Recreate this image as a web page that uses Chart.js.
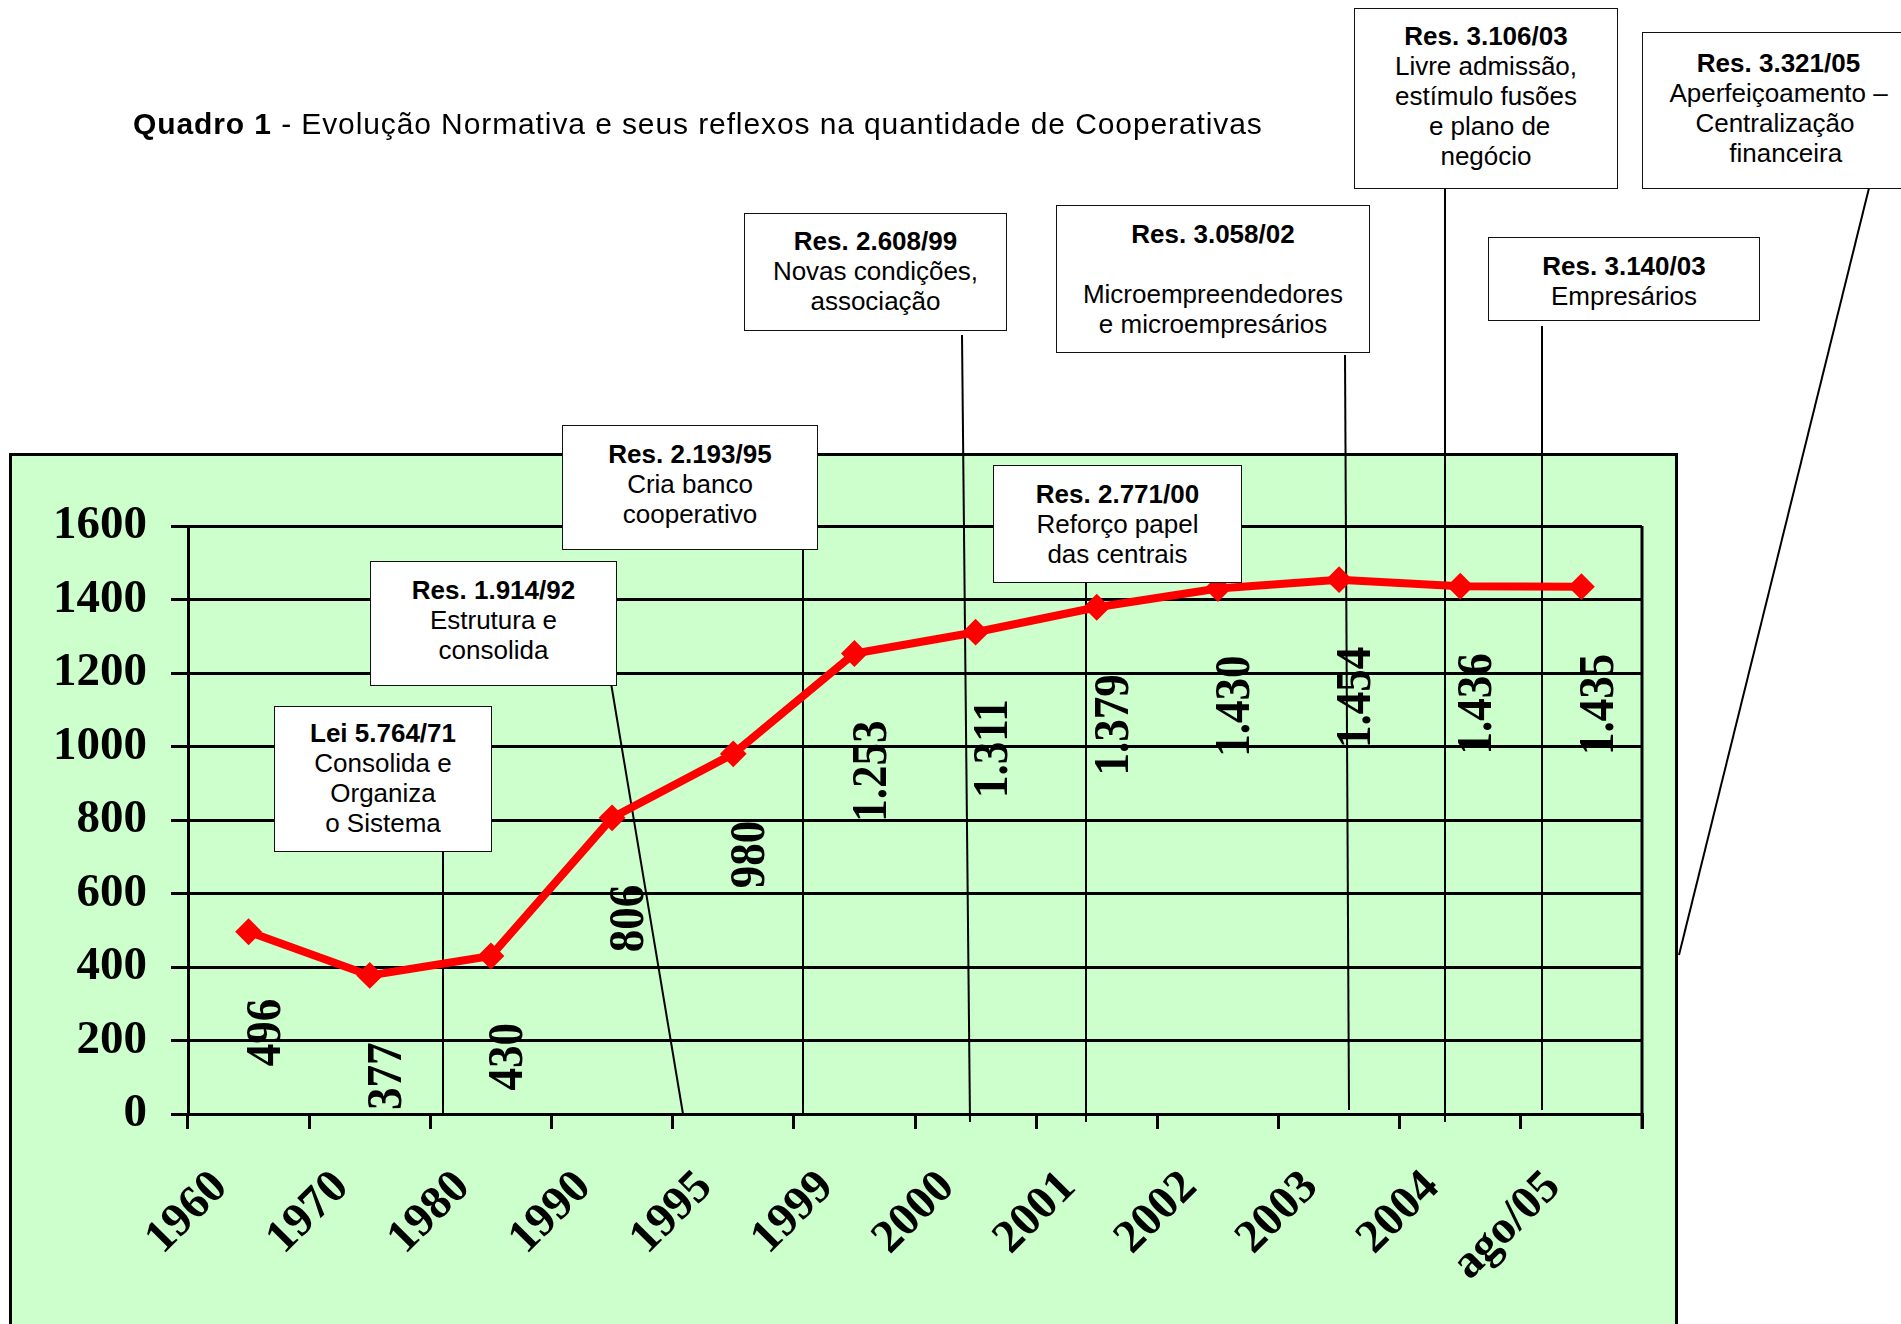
<!DOCTYPE html>
<html>
<head>
<meta charset="utf-8">
<script src="https://cdn.jsdelivr.net/npm/chart.js@4.4.1/dist/chart.umd.min.js"></script>
<style>
html,body{margin:0;padding:0;width:1901px;height:1324px;overflow:hidden;background:#fff;}
#panel{position:absolute;left:9px;top:453px;width:1669px;height:1000px;box-sizing:border-box;border:3px solid #000;background:#CCFFCC;}
#links{position:absolute;left:0;top:0;width:1901px;height:1324px;}
#chart{position:absolute;left:0;top:0;}
.note{position:absolute;box-sizing:border-box;border:1.5px solid #111;background:#fff;text-align:center;
  font-family:"Liberation Sans",Arial,sans-serif;font-size:26px;line-height:30px;white-space:pre;color:#000;}
.note b{font-weight:bold;}
#title{position:absolute;left:133px;top:109px;font-family:"Liberation Sans",Arial,sans-serif;font-size:30px;line-height:30px;letter-spacing:0.9px;white-space:nowrap;color:#000;}
</style>
</head>
<body>
<div id="panel"></div>
<svg id="links" xmlns="http://www.w3.org/2000/svg"></svg>
<canvas id="chart" width="1901" height="1324"></canvas>
<div id="title"><b>Quadro 1</b> - Evolução Normativa e seus reflexos na quantidade de Cooperativas</div>
<script>
// ---- data ----
const categories = ['1960','1970','1980','1990','1995','1999','2000','2001','2002','2003','2004','ago/05'];
const cooperatives = [496, 377, 430, 806, 980, 1253, 1311, 1379, 1430, 1454, 1436, 1435];
const yMin = 0, yMax = 1600, yStep = 200;

// annotation texts (first line bold)
const noteTitles = ['Lei 5.764/71','Res. 1.914/92','Res. 2.193/95','Res. 2.608/99','Res. 2.771/00','Res. 3.058/02','Res. 3.106/03','Res. 3.140/03','Res. 3.321/05'];
const noteBodies = [
  'Consolida e\nOrganiza\no Sistema',
  'Estrutura e\nconsolida',
  'Cria banco\ncooperativo',
  'Novas condições,\nassociação',
  'Reforço papel\ndas centrais',
  '\nMicroempreendedores\ne microempresários',
  'Livre admissão,\nestímulo fusões\n e plano de\nnegócio',
  'Empresários',
  'Aperfeiçoamento –\nCentralização \n  financeira'
];

// ---- annotation layout (boxes: left, top, width, height, padTop ; leader lines x1,y1,x2,y2) ----
const noteBoxes = [
  [274,706,218,146,11],
  [370,561,247,125,13],
  [562,425,256,125,13],
  [744,213,263,118,12],
  [993,465,249,118,13],
  [1056,205,314,148,13],
  [1354,8,264,181,12],
  [1488,237,272,84,13],
  [1642,32,273,157,15]
];
const noteLines = [
  [443,852,443,1114],
  [611,683,683,1114],
  [803,537,803,1114],
  [962,335,970,1122],
  [1086,572,1086,1122],
  [1345,355,1349,1110],
  [1445,189,1445,1122],
  [1542,326,1542,1110],
  [1870,184,1679,955]
];

const svg = document.getElementById('links');
noteLines.forEach(l => {
  const ln = document.createElementNS('http://www.w3.org/2000/svg','line');
  ln.setAttribute('x1',l[0]); ln.setAttribute('y1',l[1]);
  ln.setAttribute('x2',l[2]); ln.setAttribute('y2',l[3]);
  ln.setAttribute('stroke','#000'); ln.setAttribute('stroke-width','2');
  svg.appendChild(ln);
});
noteBoxes.forEach((b, i) => {
  const d = document.createElement('div');
  d.className = 'note';
  d.style.left = b[0] + 'px'; d.style.top = b[1] + 'px';
  d.style.width = b[2] + 'px'; d.style.height = b[3] + 'px';
  d.style.paddingTop = b[4] + 'px';
  const t = document.createElement('b');
  t.textContent = noteTitles[i];
  d.appendChild(t);
  d.appendChild(document.createTextNode('\n' + noteBodies[i]));
  d.style.zIndex = 5;
  document.body.appendChild(d);
});

function fmt(v) {
  return v >= 1000 ? Math.floor(v / 1000) + '.' + String(v % 1000).padStart(3, '0') : String(v);
}

const valueLabels = {
  id: 'valueLabels',
  afterDatasetsDraw(chart) {
    const ctx = chart.ctx;
    const meta = chart.getDatasetMeta(0);
    ctx.save();
    ctx.font = 'bold 45px "Liberation Serif"';
    ctx.fillStyle = '#000';
    ctx.textAlign = 'right';
    ctx.textBaseline = 'middle';
    meta.data.forEach((pt, i) => {
      ctx.save();
      ctx.translate(pt.x + 18, pt.y + 67);
      ctx.rotate(-Math.PI / 2);
      ctx.scale(1, 1.13);
      ctx.fillText(fmt(cooperatives[i]), 0, 0);
      ctx.restore();
    });
    ctx.restore();
  }
};

const rightBorder = {
  id: 'rightBorder',
  beforeDatasetsDraw(chart) {
    const a = chart.chartArea, ctx = chart.ctx;
    ctx.save();
    ctx.strokeStyle = '#000';
    ctx.lineWidth = 3;
    ctx.beginPath();
    ctx.moveTo(a.right, a.top);
    ctx.lineTo(a.right, a.bottom + 15);
    ctx.stroke();
    ctx.restore();
  }
};

new Chart(document.getElementById('chart'), {
  type: 'line',
  data: {
    labels: categories,
    datasets: [{
      data: cooperatives,
      borderColor: '#FF0000',
      backgroundColor: '#FF0000',
      borderWidth: 8,
      pointStyle: 'rectRot',
      pointRadius: 12,
      pointBorderWidth: 2,
      pointBackgroundColor: '#FF0000',
      pointBorderColor: '#FF0000',
      tension: 0,
      fill: false
    }]
  },
  options: {
    responsive: false,
    devicePixelRatio: 1,
    animation: false,
    layout: { padding: { top: 526, right: 259, left: 0, bottom: 0 } },
    plugins: { legend: { display: false }, tooltip: { enabled: false }, title: { display: false } },
    scales: {
      x: {
        type: 'category',
        offset: true,
        afterFit(s) { s.height = 210; },
        grid: { offset: true, drawOnChartArea: false, color: '#000', tickColor: '#000', lineWidth: 3, tickLength: 15 },
        border: { display: true, color: '#000', width: 3 },
        ticks: {
          autoSkip: false, minRotation: 45, maxRotation: 45,
          labelOffset: -28, padding: 31, color: '#000',
          font: { family: '"Liberation Serif"', size: 47, weight: 'bold' }
        }
      },
      y: {
        min: yMin, max: yMax,
        afterFit(s) { s.width = 188; },
        grid: { color: '#000', lineWidth: 3, tickLength: 17 },
        border: { display: true, color: '#000', width: 3 },
        ticks: {
          stepSize: yStep, padding: 24, color: '#000',
          font: { family: '"Liberation Serif"', size: 47, weight: 'bold' },
          callback: v => String(v)
        }
      }
    }
  },
  plugins: [rightBorder, valueLabels]
});
</script>
</body>
</html>
